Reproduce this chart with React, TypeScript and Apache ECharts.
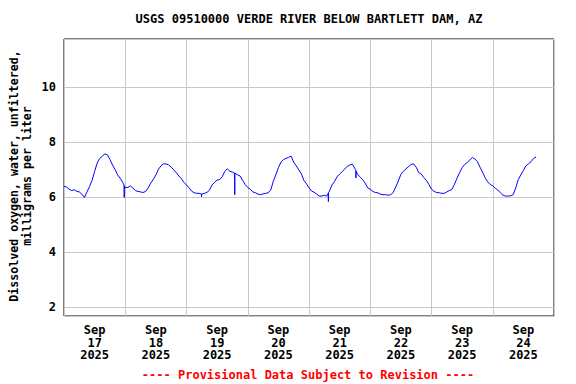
import React, { useEffect, useRef } from "react";
import * as echarts from "echarts";

// Dissolved oxygen (mg/L), hourly from Sep 17 2025 00:00
const sep17 = [6.4, 6.38, 6.3, 6.25, 6.28, 6.22, 6.2, 6.12, 6.0, 6.2, 6.4, 6.62, 6.95, 7.25, 7.42, 7.5, 7.58, 7.55, 7.38, 7.18, 7.02, 6.82, 6.7, 6.55];
const sep18 = [6.36, 6.36, 6.42, 6.34, 6.25, 6.22, 6.2, 6.18, 6.22, 6.35, 6.52, 6.66, 6.82, 7.02, 7.15, 7.22, 7.22, 7.18, 7.1, 7.0, 6.9, 6.78, 6.68, 6.55];
const sep19 = [6.45, 6.35, 6.23, 6.17, 6.15, 6.15, 6.12, 6.15, 6.18, 6.27, 6.45, 6.55, 6.63, 6.65, 6.75, 6.95, 7.04, 6.95, 6.92, 6.88, 6.82, 6.78, 6.62, 6.47];
const sep20 = [6.36, 6.3, 6.2, 6.17, 6.12, 6.1, 6.13, 6.15, 6.17, 6.27, 6.58, 6.82, 7.08, 7.28, 7.38, 7.42, 7.46, 7.5, 7.28, 7.15, 7.0, 6.86, 6.62, 6.5];
const sep21 = [6.35, 6.23, 6.19, 6.12, 6.05, 6.05, 6.08, 6.05, 6.23, 6.45, 6.58, 6.75, 6.85, 6.94, 7.03, 7.13, 7.18, 7.21, 7.05, 6.84, 6.75, 6.65, 6.52, 6.35];
const sep22 = [6.3, 6.22, 6.18, 6.17, 6.12, 6.1, 6.1, 6.08, 6.1, 6.18, 6.38, 6.6, 6.84, 6.95, 7.04, 7.12, 7.2, 7.22, 7.1, 6.9, 6.85, 6.72, 6.62, 6.47];
const sep23 = [6.3, 6.22, 6.18, 6.17, 6.15, 6.15, 6.2, 6.25, 6.29, 6.48, 6.7, 6.9, 7.08, 7.2, 7.27, 7.36, 7.45, 7.4, 7.3, 7.1, 6.92, 6.72, 6.57, 6.47];
const sep24 = [6.42, 6.33, 6.27, 6.17, 6.08, 6.05, 6.05, 6.06, 6.1, 6.35, 6.65, 6.82, 6.98, 7.15, 7.22, 7.3, 7.42, 7.47];

// brief drops (hours since Sep 17 00:00, value)
const spikeHours = [23.6, 53.9, 66.9, 103.6, 114.4];
const spikeValues = [6.0, 6.03, 6.1, 5.85, 6.71];

const dayLabels = ["17", "18", "19", "20", "21", "22", "23", "24"];
const titleText = "USGS 09510000 VERDE RIVER BELOW BARTLETT DAM, AZ";
const yNameLines = ["Dissolved oxygen, water, unfiltered,", "milligrams per liter"];
const footerText = "---- Provisional Data Subject to Revision ----";

const FONT = "DejaVu Sans Mono";

function buildData(): [number, number][] {
  const vals = [...sep17, ...sep18, ...sep19, ...sep20, ...sep21, ...sep22, ...sep23, ...sep24];
  const pts: [number, number][] = vals.map((v, i) => [i, v]);
  const base = (t: number) => {
    const i = Math.floor(t);
    const f = t - i;
    const a = vals[i];
    const b = vals[Math.min(i + 1, vals.length - 1)];
    return a + (b - a) * f;
  };
  spikeHours.forEach((t, k) => {
    pts.push([t - 0.05, base(t - 0.05)]);
    pts.push([t, spikeValues[k]]);
    pts.push([t + 0.05, base(t + 0.05)]);
  });
  pts.sort((p, q) => p[0] - q[0]);
  return pts;
}

export default function App() {
  const ref = useRef<HTMLDivElement>(null);
  useEffect(() => {
    if (!ref.current) return;
    const chart = echarts.init(ref.current, undefined, { renderer: "svg" });
    const textBase = { fontFamily: FONT, fontWeight: "bold" as const, fontSize: 12, color: "#000" };
    chart.setOption({
      animation: false,
      backgroundColor: "#fff",
      grid: { left: 64, right: 22, top: 39, bottom: 68, show: true, borderColor: "#000", borderWidth: 1, backgroundColor: "transparent" },
      xAxis: [
        {
          type: "value", min: 0, max: 192, interval: 24,
          axisLine: { show: false }, axisTick: { show: false }, axisLabel: { show: false },
          splitLine: { show: true, lineStyle: { color: "#c8c8c8", width: 1 } },
        },
        {
          type: "value", min: 0, max: 192, interval: 12, position: "bottom",
          axisLine: { show: false }, axisTick: { show: false }, splitLine: { show: false },
          axisLabel: {
            ...textBase, margin: 8, lineHeight: 12.5,
            formatter: (v: number) => (v % 24 === 12 ? `Sep\n${dayLabels[Math.floor(v / 24)]}\n2025` : ""),
          },
        },
      ],
      yAxis: {
        type: "value", min: 1.69, max: 11.76,
        axisLine: { show: false }, axisTick: { show: false },
        axisLabel: { ...textBase, margin: 8, showMinLabel: false, showMaxLabel: false },
        splitLine: { show: true, lineStyle: { color: "#c8c8c8", width: 1 } },
      },
      series: [
        {
          type: "line", xAxisIndex: 0, data: buildData(), showSymbol: false, symbol: "none",
          lineStyle: { color: "#0000ff", width: 1 }, z: 5,
        },
        { type: "line", xAxisIndex: 1, data: [], showSymbol: false },
      ],
      graphic: [
        { type: "text", x: 309, y: 19, style: { text: titleText, font: `bold 12px "${FONT}"`, fill: "#000", textAlign: "center", textVerticalAlign: "middle", align: "center", verticalAlign: "middle" } },
        { type: "text", x: 20, y: 176, rotation: Math.PI / 2, style: { text: yNameLines.join("\n"), font: `bold 11.6px "${FONT}"`, fill: "#000", lineHeight: 13, textAlign: "center", textVerticalAlign: "middle", align: "center", verticalAlign: "middle" } },
        { type: "text", x: 308, y: 375, style: { text: footerText, font: `bold 12px "${FONT}"`, fill: "#ff0000", textAlign: "center", textVerticalAlign: "middle", align: "center", verticalAlign: "middle" } },
      ],
    });
    return () => chart.dispose();
  }, []);
  return <div ref={ref} style={{ position: "fixed", left: 0, top: 0, width: 576, height: 384 }} />;
}
